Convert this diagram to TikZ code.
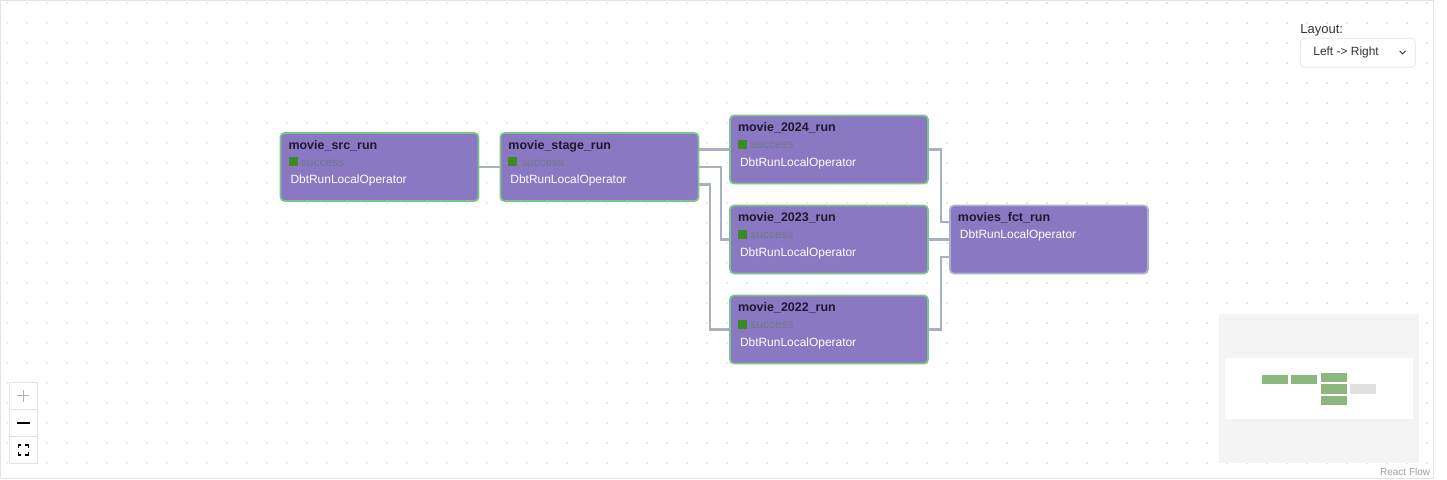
\documentclass[tikz,border=0pt]{standalone}
\usepackage{fontspec}
\setmainfont{Liberation Sans}
\usepackage{tikz}

\definecolor{taskfill}{HTML}{8A78C2}
\definecolor{okborder}{HTML}{7CC48C}
\definecolor{fctborder}{HTML}{A9B4C8}
\definecolor{edgegray}{HTML}{A7B1C1}
\definecolor{titletext}{HTML}{1E1B2E}
\definecolor{okgreen}{HTML}{3C8A22}
\definecolor{statustext}{HTML}{6E7A8C}
\definecolor{dotgray}{HTML}{B0B0B0}
\definecolor{minigreen}{HTML}{8DB77F}
\definecolor{minigray}{HTML}{E0E0E0}
\definecolor{panelgray}{HTML}{F4F4F4}
\definecolor{framegray}{HTML}{E3E3E3}
\definecolor{uitext}{HTML}{333333}

\newcommand{\tasktitle}[1]{{\fontsize{7.1pt}{9.9pt}\selectfont\bfseries\color{titletext}#1}}
\newcommand{\okstatus}{{\color{okgreen}\rule{0.18cm}{0.18cm}}\hspace{0.07cm}{\color{statustext}success}}

\begin{document}
\begin{tikzpicture}[x=0.02cm, y=-0.02cm]
\tikzstyle{block} = [rectangle, draw=okborder, line width=1pt, fill=taskfill, rounded corners=0.08cm, text width=3.64cm, align=left, inner xsep=0.16cm, inner ysep=0pt, text height=0.32cm, text depth=1.04cm, font=\fontsize{6.8pt}{9.9pt}\selectfont, text=white]
\tikzstyle{edge} = [edgegray, line width=1.3pt]
\tikzstyle{uibox} = [draw=framegray, fill=white, minimum width=0.56cm, minimum height=0.54cm, anchor=north west, inner sep=0pt]

\useasboundingbox (0,0) rectangle (1447,480);
\foreach \i in {0,...,71}
  \foreach \j in {0,...,23}
    \fill [dotgray] (7+20*\i,3+20*\j) circle (0.42pt);
\draw [framegray] (0.5,0.5) rectangle (1433,478);

\node [block] (src) at (379.5,167) {\tasktitle{movie\_src\_run}\\ \okstatus\\ \hspace*{0.04cm}DbtRunLocalOperator};
\node [block, right of=src, node distance=4.4cm] (stage) {\tasktitle{movie\_stage\_run}\\ \okstatus\\ \hspace*{0.04cm}DbtRunLocalOperator};
\node [block] (m2024) at (829,149.5) {\tasktitle{movie\_2024\_run}\\ \okstatus\\ \hspace*{0.04cm}DbtRunLocalOperator};
\node [block, below of=m2024, node distance=1.8cm] (m2023) {\tasktitle{movie\_2023\_run}\\ \okstatus\\ \hspace*{0.04cm}DbtRunLocalOperator};
\node [block, below of=m2023, node distance=1.8cm] (m2022) {\tasktitle{movie\_2022\_run}\\ \okstatus\\ \hspace*{0.04cm}DbtRunLocalOperator};
\node [block, draw=fctborder, right of=m2023, node distance=4.4cm] (fct) {\tasktitle{movies\_fct\_run}\\ \hspace*{0.04cm}DbtRunLocalOperator};

\draw [edge] (src.east) -- (stage.west);
\draw [edge] (m2024.west -| stage.east) -- (m2024.west);
\draw [edge] (stage.east) -- ++(22,0) |- (m2023.west);
\draw [edge] ([yshift=-0.35cm]stage.east) -- ++(11,0) |- (m2022.west);
\draw [edge] (m2024.east) -- ++(12,0) |- ([yshift=0.35cm]fct.west);
\draw [edge] (m2023.east) -- (fct.west);
\draw [edge] (m2022.east) -- ++(12,0) |- ([yshift=-0.35cm]fct.west);

\node [anchor=base west, inner sep=0pt, text=uitext, font=\fontsize{7.4pt}{9pt}\selectfont] (layoutlabel) at (1300,33) {Layout:};
\node [draw=framegray, fill=white, rounded corners=0.08cm, minimum width=2.3cm, minimum height=0.58cm, anchor=north west] (layoutbox) at (1300,38) {};
\node [anchor=west, inner sep=0pt, text=uitext, font=\fontsize{6.8pt}{9pt}\selectfont] (layoutvalue) at (1313,52) {Left -> Right};
\draw [uitext, line width=0.5pt] ([xshift=-0.32cm,yshift=0.04cm]layoutbox.east) -- ++(3,3) -- ++(3,-3);

\node [uibox] (zoomin) at (9,382) {};
\node [uibox, below of=zoomin, node distance=0.54cm] (zoomout) {};
\node [uibox, below of=zoomout, node distance=0.54cm] (fitview) {};
\draw [gray!60, line width=0.6pt] ([xshift=-0.12cm]zoomin.center) -- ([xshift=0.12cm]zoomin.center);
\draw [gray!60, line width=0.6pt] ([yshift=-0.12cm]zoomin.center) -- ([yshift=0.12cm]zoomin.center);
\draw [black, line width=1pt] ([xshift=-0.13cm]zoomout.center) -- ([xshift=0.13cm]zoomout.center);
\draw [black, line width=0.8pt] (fitview.center) ++(-5,-2) -- ++(0,-3) -- ++(3,0);
\draw [black, line width=0.8pt] (fitview.center) ++(2,-5) -- ++(3,0) -- ++(0,3);
\draw [black, line width=0.8pt] (fitview.center) ++(5,2) -- ++(0,3) -- ++(-3,0);
\draw [black, line width=0.8pt] (fitview.center) ++(-2,5) -- ++(-3,0) -- ++(0,-3);

\fill [panelgray] (1219,314) rectangle (1419,463);
\fill [white] (1225,358) rectangle (1413,419);
\fill [minigreen] (1262,375) rectangle (1288,384);
\fill [minigreen] (1291,375) rectangle (1317,384);
\fill [minigreen] (1321,373) rectangle (1347,382);
\fill [minigreen] (1321,384) rectangle (1347,394);
\fill [minigreen] (1321,396) rectangle (1347,405);
\fill [minigray] (1350,384) rectangle (1376,394);
\node [anchor=south east, fill=white, inner xsep=0.04cm, inner ysep=0.04cm, text=gray!75, font=\fontsize{5.7pt}{7pt}\selectfont] (reactflow) at (1432.5,477.5) {React Flow};
\end{tikzpicture}
\end{document}
